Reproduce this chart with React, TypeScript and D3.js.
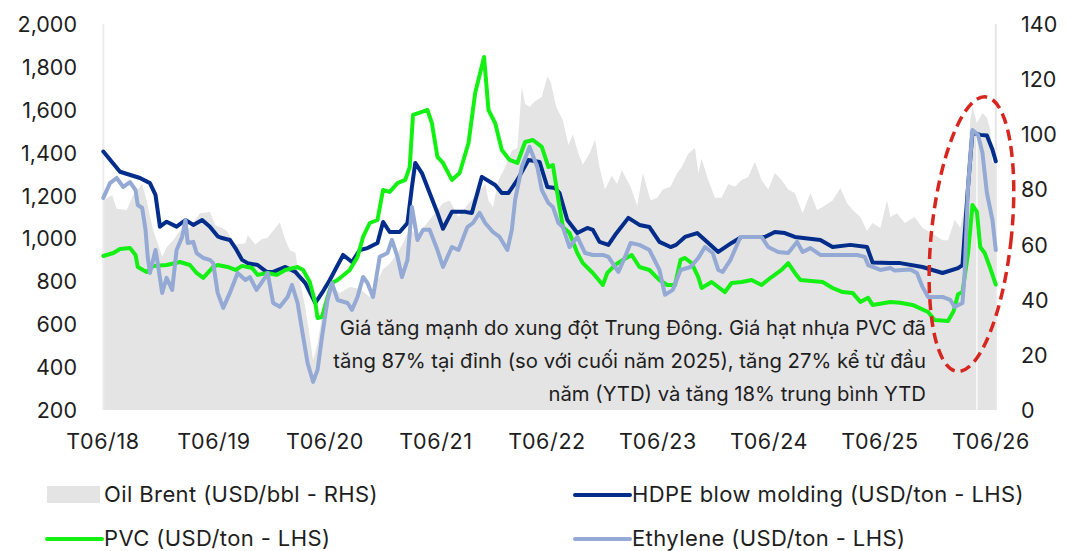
import React from "react";
import * as d3 from "d3";

// ---------- data ----------
const xTickLabels = ["T06/18", "T06/19", "T06/20", "T06/21", "T06/22", "T06/23", "T06/24", "T06/25", "T06/26"];
const xTickYears = [2018.417, 2019.417, 2020.417, 2021.417, 2022.417, 2023.417, 2024.417, 2025.417, 2026.417];
const leftTicks = [200, 400, 600, 800, 1000, 1200, 1400, 1600, 1800, 2000];
const rightTicks = [0, 20, 40, 60, 80, 100, 120, 140];

// [decimal year, USD/bbl]
const oilBrent: [number, number][] = [
  [2018.42, 76], [2018.5, 78], [2018.54, 73], [2018.63, 72.5], [2018.69, 78], [2018.77, 82], [2018.81, 76],
  [2018.87, 65], [2018.91, 60.5], [2018.95, 55.5], [2018.99, 59], [2019.05, 61.6], [2019.11, 65], [2019.2, 66],
  [2019.29, 71.4], [2019.38, 71.8], [2019.43, 67], [2019.49, 66], [2019.53, 65], [2019.61, 60], [2019.7, 60.5],
  [2019.72, 63.5], [2019.79, 60], [2019.85, 62], [2019.9, 62.5], [2019.97, 66], [2020.01, 68], [2020.06, 61.6],
  [2020.1, 58], [2020.15, 57], [2020.19, 47], [2020.24, 37], [2020.28, 26.5], [2020.31, 18], [2020.35, 24],
  [2020.39, 34], [2020.44, 41], [2020.48, 44.6], [2020.55, 42.4], [2020.64, 44.6], [2020.73, 44], [2020.82, 41],
  [2020.89, 47], [2020.94, 51], [2021.0, 53], [2021.07, 57], [2021.12, 60.5], [2021.18, 66], [2021.25, 62.7],
  [2021.3, 66], [2021.36, 69], [2021.43, 72.5], [2021.48, 75], [2021.54, 76], [2021.62, 70], [2021.71, 75],
  [2021.8, 78.7], [2021.86, 82], [2021.89, 76], [2021.93, 73.6], [2021.98, 83.4], [2022.04, 88], [2022.1, 94],
  [2022.15, 95], [2022.19, 117], [2022.22, 111], [2022.26, 110], [2022.31, 112], [2022.37, 113.5], [2022.42, 121],
  [2022.45, 119], [2022.5, 110], [2022.56, 105], [2022.61, 96], [2022.65, 100], [2022.7, 93], [2022.74, 89],
  [2022.8, 93], [2022.85, 98], [2022.89, 88], [2022.94, 80], [2023.0, 85], [2023.05, 82], [2023.09, 87],
  [2023.17, 81], [2023.23, 74], [2023.28, 86], [2023.35, 76], [2023.41, 77], [2023.46, 80], [2023.53, 81],
  [2023.59, 86], [2023.63, 88], [2023.69, 93], [2023.75, 95], [2023.78, 86], [2023.81, 91], [2023.87, 83.4],
  [2023.93, 77], [2023.99, 77], [2024.05, 82], [2024.11, 81], [2024.17, 83.4], [2024.23, 84.5], [2024.29, 90],
  [2024.35, 83.4], [2024.41, 80], [2024.47, 86], [2024.53, 83.4], [2024.59, 80], [2024.65, 78.7], [2024.72, 71.4],
  [2024.79, 78.7], [2024.85, 72.5], [2024.9, 73.6], [2024.99, 76], [2025.06, 80.5], [2025.12, 75], [2025.17, 72.5],
  [2025.24, 70], [2025.3, 65], [2025.35, 67.8], [2025.42, 66], [2025.48, 76], [2025.51, 70], [2025.57, 71.4],
  [2025.64, 67.8], [2025.73, 70], [2025.8, 66], [2025.89, 64], [2025.98, 61.6], [2026.03, 61.6], [2026.09, 69],
  [2026.14, 66], [2026.18, 73.6], [2026.23, 105], [2026.25, 110], [2026.29, 104], [2026.34, 107.7], [2026.38, 106],
  [2026.41, 101.6], [2026.43, 89.6], [2026.46, 92],
];

// [decimal year, USD/ton]
const hdpe: [number, number][] = [
  [2018.42, 1405], [2018.57, 1311], [2018.75, 1282], [2018.84, 1258], [2018.89, 1203], [2018.93, 1055],
  [2018.99, 1078], [2019.08, 1055], [2019.16, 1086], [2019.23, 1063], [2019.31, 1086], [2019.38, 1055],
  [2019.45, 1010], [2019.49, 1002], [2019.56, 993], [2019.61, 955], [2019.67, 900], [2019.72, 885],
  [2019.81, 876], [2019.89, 844], [2019.95, 844], [2020.06, 867], [2020.15, 844], [2020.24, 792],
  [2020.33, 699], [2020.39, 746], [2020.46, 806], [2020.58, 923], [2020.66, 890], [2020.73, 946],
  [2020.8, 955], [2020.89, 979], [2020.94, 1077], [2021.0, 1030], [2021.09, 1030], [2021.16, 1072],
  [2021.2, 1240], [2021.23, 1352], [2021.29, 1305], [2021.36, 1212], [2021.43, 1119], [2021.48, 1045],
  [2021.56, 1124], [2021.68, 1124], [2021.74, 1119], [2021.83, 1287], [2021.95, 1249], [2022.01, 1212],
  [2022.07, 1212], [2022.15, 1273], [2022.25, 1366], [2022.35, 1357], [2022.42, 1240], [2022.49, 1235],
  [2022.53, 1212], [2022.6, 1086], [2022.69, 1025], [2022.78, 1049], [2022.83, 1040], [2022.89, 984],
  [2022.97, 970], [2023.03, 1016], [2023.15, 1096], [2023.25, 1063], [2023.34, 1053], [2023.43, 984],
  [2023.53, 960], [2023.58, 970], [2023.66, 1007], [2023.77, 1025], [2023.84, 993], [2023.96, 937],
  [2024.08, 979], [2024.17, 1007], [2024.38, 1007], [2024.47, 1030], [2024.56, 1025], [2024.65, 1007],
  [2024.88, 993], [2024.99, 960], [2025.15, 970], [2025.3, 960], [2025.35, 888], [2025.51, 885],
  [2025.6, 885], [2025.8, 867], [2025.98, 839], [2026.12, 862], [2026.16, 876], [2026.21, 1240],
  [2026.25, 1495], [2026.32, 1483], [2026.38, 1480], [2026.43, 1415], [2026.46, 1360],
];

const pvc: [number, number][] = [
  [2018.42, 918], [2018.51, 932], [2018.57, 951], [2018.66, 955], [2018.71, 923], [2018.73, 867],
  [2018.81, 844], [2018.87, 872], [2018.99, 876], [2019.11, 890], [2019.2, 876], [2019.26, 839],
  [2019.32, 816], [2019.41, 867], [2019.45, 876], [2019.54, 867], [2019.61, 853], [2019.67, 872],
  [2019.76, 862], [2019.81, 830], [2019.9, 839], [2019.98, 830], [2020.06, 853], [2020.17, 867],
  [2020.22, 853], [2020.28, 797], [2020.33, 699], [2020.35, 629], [2020.39, 634], [2020.44, 727],
  [2020.48, 792], [2020.53, 806], [2020.64, 853], [2020.71, 914], [2020.76, 1007], [2020.82, 1072],
  [2020.89, 1086], [2020.94, 1226], [2021.0, 1217], [2021.07, 1258], [2021.14, 1273], [2021.18, 1333],
  [2021.21, 1576], [2021.29, 1590], [2021.34, 1599], [2021.38, 1538], [2021.43, 1380], [2021.48, 1352],
  [2021.56, 1273], [2021.63, 1305], [2021.71, 1445], [2021.77, 1678], [2021.85, 1846], [2021.89, 1599],
  [2021.95, 1538], [2022.01, 1412], [2022.08, 1366], [2022.15, 1352], [2022.22, 1450], [2022.29, 1459],
  [2022.37, 1427], [2022.43, 1333], [2022.47, 1342], [2022.53, 1147], [2022.56, 1053], [2022.62, 1025],
  [2022.69, 932], [2022.74, 885], [2022.83, 839], [2022.92, 783], [2022.96, 839], [2023.03, 876],
  [2023.1, 900], [2023.18, 923], [2023.25, 867], [2023.34, 853], [2023.43, 806], [2023.5, 783],
  [2023.57, 783], [2023.62, 900], [2023.66, 909], [2023.72, 885], [2023.78, 820], [2023.81, 769],
  [2023.9, 797], [2024.02, 750], [2024.08, 792], [2024.17, 797], [2024.26, 806], [2024.35, 783],
  [2024.44, 820], [2024.53, 853], [2024.59, 885], [2024.65, 839], [2024.7, 806], [2024.9, 797],
  [2024.99, 769], [2025.08, 750], [2025.17, 746], [2025.24, 704], [2025.31, 723], [2025.35, 690],
  [2025.51, 704], [2025.6, 700], [2025.71, 690], [2025.85, 657], [2025.91, 620], [2026.03, 615],
  [2026.08, 660], [2026.12, 740], [2026.16, 750], [2026.21, 930], [2026.25, 1156], [2026.29, 1124],
  [2026.32, 960], [2026.36, 932], [2026.41, 862], [2026.46, 785],
];

const ethylene: [number, number][] = [
  [2018.42, 1189], [2018.48, 1258], [2018.54, 1282], [2018.6, 1240], [2018.66, 1263], [2018.71, 1226],
  [2018.73, 1156], [2018.77, 1142], [2018.8, 1040], [2018.82, 914], [2018.84, 839], [2018.89, 946],
  [2018.91, 885], [2018.95, 746], [2018.99, 816], [2019.04, 760], [2019.08, 946], [2019.13, 1007],
  [2019.16, 1086], [2019.18, 979], [2019.23, 984], [2019.26, 932], [2019.32, 909], [2019.38, 900],
  [2019.41, 885], [2019.45, 746], [2019.5, 676], [2019.56, 746], [2019.63, 839], [2019.7, 806],
  [2019.74, 820], [2019.8, 760], [2019.88, 820], [2019.9, 839], [2019.95, 699], [2020.01, 681],
  [2020.08, 727], [2020.12, 783], [2020.17, 699], [2020.21, 573], [2020.26, 419], [2020.31, 331],
  [2020.35, 387], [2020.39, 541], [2020.44, 713], [2020.48, 792], [2020.53, 713], [2020.62, 699],
  [2020.66, 667], [2020.71, 727], [2020.76, 820], [2020.8, 792], [2020.85, 727], [2020.91, 914],
  [2020.98, 932], [2021.02, 993], [2021.07, 914], [2021.11, 820], [2021.16, 900], [2021.2, 1147],
  [2021.25, 993], [2021.3, 1040], [2021.36, 1040], [2021.43, 946], [2021.48, 867], [2021.56, 960],
  [2021.62, 946], [2021.7, 1053], [2021.75, 1072], [2021.81, 1119], [2021.86, 1072], [2021.93, 1030],
  [2021.99, 1007], [2022.06, 946], [2022.1, 1040], [2022.13, 1180], [2022.19, 1333], [2022.26, 1427],
  [2022.33, 1333], [2022.37, 1226], [2022.43, 1165], [2022.47, 1147], [2022.52, 1072], [2022.56, 1053],
  [2022.62, 960], [2022.69, 1007], [2022.76, 932], [2022.83, 923], [2022.92, 923], [2022.97, 914],
  [2023.06, 844], [2023.12, 914], [2023.17, 979], [2023.25, 970], [2023.34, 946], [2023.43, 853],
  [2023.48, 737], [2023.55, 760], [2023.62, 853], [2023.71, 867], [2023.78, 909], [2023.84, 960],
  [2023.91, 932], [2023.96, 853], [2024.0, 844], [2024.07, 900], [2024.16, 1007], [2024.35, 1007],
  [2024.41, 960], [2024.5, 937], [2024.59, 932], [2024.67, 984], [2024.72, 937], [2024.79, 955],
  [2024.88, 923], [2025.03, 923], [2025.21, 923], [2025.28, 914], [2025.31, 876], [2025.42, 853],
  [2025.51, 862], [2025.55, 850], [2025.69, 855], [2025.75, 839], [2025.8, 774], [2025.85, 727],
  [2025.98, 727], [2026.05, 713], [2026.09, 681], [2026.16, 699], [2026.18, 839], [2026.21, 1240],
  [2026.25, 1506], [2026.3, 1483], [2026.34, 1399], [2026.38, 1212], [2026.43, 1086], [2026.46, 946],
];

const oilGapYear = 2026.29;

const annotationLines = [
  "Giá tăng mạnh do xung đột Trung Đông. Giá hạt nhựa PVC đã",
  "tăng 87% tại đỉnh (so với cuối năm 2025), tăng 27% kể từ đầu",
  "năm (YTD) và tăng 18% trung bình YTD",
];

const legendItems = [
  { label: "Oil Brent (USD/bbl - RHS)", kind: "area", color: "#e4e4e4" },
  { label: "HDPE blow molding (USD/ton - LHS)", kind: "line", color: "#032d8a" },
  { label: "PVC (USD/ton - LHS)", kind: "line", color: "#14f014" },
  { label: "Ethylene (USD/ton - LHS)", kind: "line", color: "#94a9d4" },
];

const FONT = "Inter, 'Noto Sans', sans-serif";

export default function App() {
  const W = 1075;
  const H = 551;
  const x = d3.scaleLinear().domain([2018.417, 2026.417]).range([103, 991]);
  const yL = d3.scaleLinear().domain([200, 2000]).range([410, 24]);
  const yR = d3.scaleLinear().domain([0, 140]).range([410, 24]);

  const area = d3
    .area<[number, number]>()
    .x((d) => x(d[0]))
    .y0(yR(0))
    .y1((d) => yR(d[1]));
  const line = d3
    .line<[number, number]>()
    .x((d) => x(d[0]))
    .y((d) => yL(d[1]));

  const firstX = x(oilBrent[0][0]);
  const lastX = x(oilBrent[oilBrent.length - 1][0]);
  const gapVal = oilBrent.find((d) => d[0] === oilGapYear)![1];

  const cx = x(2026.25) - 1;
  const cy = yL(1020);

  const textColor = "#1e1e1e";

  return (
    <svg
      width={W}
      height={H}
      viewBox={`0 0 ${W} ${H}`}
      style={{ position: "absolute", left: 0, top: 0, background: "#fff" }}
    >
      {/* oil area */}
      <path d={area(oilBrent)!} fill="#e4e4e4" />
      <line x1={firstX} x2={firstX} y1={yR(140)} y2={yR(0)} stroke="#ececec" strokeWidth={2} />
      <line x1={lastX} x2={lastX} y1={yR(140)} y2={yR(0)} stroke="#e6e6e6" strokeWidth={2} />
      <line x1={x(oilGapYear)} x2={x(oilGapYear)} y1={yR(gapVal) + 10} y2={yR(0)} stroke="#ffffff" strokeWidth={1.2} />

      {/* lines */}
      <path d={line(hdpe)!} fill="none" stroke={legendItems[1].color} strokeWidth={4} strokeLinejoin="round" strokeLinecap="round" />
      <path d={line(pvc)!} fill="none" stroke={legendItems[2].color} strokeWidth={4} strokeLinejoin="round" strokeLinecap="round" />
      <path d={line(ethylene)!} fill="none" stroke={legendItems[3].color} strokeWidth={4} strokeLinejoin="round" strokeLinecap="round" />

      {/* left axis */}
      {leftTicks.map((t) => (
        <text key={"l" + t} x={77} y={yL(t)} textAnchor="end" dominantBaseline="central" fontFamily={FONT} fontSize={21.5} fill={textColor}>
          {d3.format(",")(t)}
        </text>
      ))}
      {/* right axis */}
      {rightTicks.map((t) => (
        <text key={"r" + t} x={1021} y={yR(t)} textAnchor="start" dominantBaseline="central" fontFamily={FONT} fontSize={21.5} fill={textColor}>
          {t}
        </text>
      ))}
      {/* x axis */}
      {xTickLabels.map((lab, i) => (
        <text key={lab} x={x(xTickYears[i])} y={441} textAnchor="middle" dominantBaseline="central" fontFamily={FONT} fontSize={21.5} letterSpacing={0.6} fill={textColor}>
          {lab}
        </text>
      ))}

      {/* annotation */}
      {annotationLines.map((s, i) => (
        <text key={i} x={926} y={335 + i * 33} textAnchor="end" fontFamily={FONT} fontSize={20.3} fill={textColor}>
          {s}
        </text>
      ))}
      <ellipse
        cx={cx}
        cy={cy}
        rx={40}
        ry={138}
        transform={`rotate(6 ${cx} ${cy})`}
        fill="none"
        stroke="#d6261e"
        strokeWidth={3.5}
        strokeDasharray="11 6"
      />

      {/* legend */}
      {legendItems.map((it, i) => {
        const col = i % 2;
        const row = Math.floor(i / 2);
        const sx = col === 0 ? 47 : 575;
        const sy = row === 0 ? 494 : 538;
        return (
          <g key={it.label}>
            {it.kind === "area" ? (
              <rect x={sx} y={sy - 8} width={53} height={17} fill={it.color} />
            ) : (
              <line x1={sx} x2={sx + 55} y1={sy + 1} y2={sy + 1} stroke={it.color} strokeWidth={4} strokeLinecap="round" />
            )}
            <text x={sx + 57} y={sy} dominantBaseline="central" fontFamily={FONT} fontSize={22} letterSpacing={0.4} fill={textColor}>
              {it.label}
            </text>
          </g>
        );
      })}
    </svg>
  );
}
